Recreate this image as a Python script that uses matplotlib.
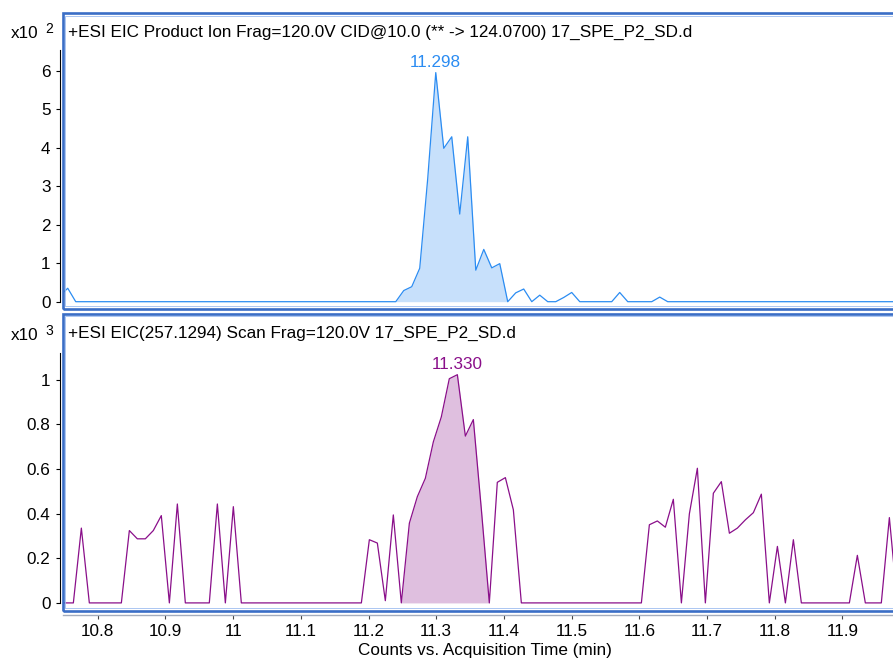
import matplotlib
matplotlib.use("Agg")
import matplotlib.pyplot as plt
from matplotlib.patches import Rectangle
from matplotlib.ticker import FuncFormatter

plt.rcParams['font.family'] = ['Liberation Sans', 'DejaVu Sans']

W, H = 893, 658
FS = 12.3

# top trace: +ESI EIC product ion (counts x10^2)
t_top = [10.7439, 10.7557, 10.7675, 11.2402, 11.2520, 11.2638, 11.2756, 11.2874,
         11.2993, 11.3111, 11.3229, 11.3347, 11.3465, 11.3584, 11.3702, 11.3820,
         11.3938, 11.4056, 11.4174, 11.4292, 11.4411, 11.4529, 11.4647, 11.4765,
         11.4883, 11.5001, 11.5120, 11.5592, 11.5710, 11.5829, 11.6183, 11.6301,
         11.6419, 11.9900]
y_top = [0.15, 0.35, 0.0, 0.0, 0.29, 0.39, 0.87, 3.2,
         5.96, 3.99, 4.29, 2.28, 4.29, 0.82, 1.36, 0.88,
         0.99, 0.0, 0.23, 0.33, 0.0, 0.17, 0.0, 0.0,
         0.11, 0.24, 0.0, 0.0, 0.24, 0.0, 0.0, 0.12,
         0.0, 0.0]
top_peak = (11.2402, 11.4056)
top_yticks = [0, 1, 2, 3, 4, 5, 6]

# bottom trace: +ESI EIC(257.1294) scan (counts x10^3)
t_bot = [10.7450, 10.7640, 10.7758, 10.7876, 10.8349, 10.8467, 10.8585, 10.8703,
         10.8821, 10.8939, 10.9058, 10.9176, 10.9294, 10.9648, 10.9767, 10.9885,
         11.0003, 11.0121, 11.1894, 11.2012, 11.2130, 11.2248, 11.2366, 11.2484,
         11.2603, 11.2721, 11.2839, 11.2957, 11.3075, 11.3193, 11.3312, 11.3430,
         11.3548, 11.3666, 11.3784, 11.3902, 11.4021, 11.4139, 11.4257, 11.6030,
         11.6148, 11.6266, 11.6384, 11.6502, 11.6621, 11.6739, 11.6857, 11.6975,
         11.7093, 11.7211, 11.7330, 11.7448, 11.7566, 11.7684, 11.7802, 11.7920,
         11.8039, 11.8157, 11.8275, 11.8393, 11.9102, 11.9220, 11.9338, 11.9574,
         11.9693, 11.9811]
y_bot = [0.0, 0.0, 0.335, 0.0, 0.0, 0.324, 0.287, 0.287,
         0.324, 0.391, 0.0, 0.443, 0.0, 0.0, 0.443, 0.0,
         0.431, 0.0, 0.0, 0.283, 0.268, 0.01, 0.394, 0.0,
         0.357, 0.476, 0.558, 0.721, 0.833, 1.004, 1.022, 0.747,
         0.821, 0.42, 0.0, 0.540, 0.561, 0.417, 0.0, 0.0,
         0.350, 0.367, 0.339, 0.464, 0.0, 0.399, 0.603, 0.0,
         0.491, 0.543, 0.312, 0.335, 0.372, 0.404, 0.487, 0.0,
         0.253, 0.0, 0.283, 0.0, 0.0, 0.213, 0.0, 0.0,
         0.382, 0.0]
bot_peak = (11.2484, 11.3784)
bot_yticks = [0, 0.2, 0.4, 0.6, 0.8, 1.0]

x_ticks = [10.8, 10.9, 11.0, 11.1, 11.2, 11.3, 11.4, 11.5, 11.6, 11.7, 11.8, 11.9]

title_top = "+ESI EIC Product Ion Frag=120.0V CID@10.0 (** -> 124.0700) 17_SPE_P2_SD.d"
title_bot = "+ESI EIC(257.1294) Scan Frag=120.0V 17_SPE_P2_SD.d"
xlabel = "Counts vs. Acquisition Time (min)"

frame_dark = '#3a6ec6'
frame_light = '#9dbdf0'
blue = '#2b8cf2'
blue_fill = '#c7e0fb'
purple = '#8a0f8a'
purple_fill = '#dfbfdf'


def box(x0, y0, x1, y1):
    # pixel box (top-left origin) -> figure rect
    return [x0 / W, 1 - y1 / H, (x1 - x0) / W, (y1 - y0) / H]


fig = plt.figure(figsize=(W / 100, H / 100), dpi=100)
ax1 = fig.add_axes(box(63, 13, 900, 309))
ax2 = fig.add_axes(box(63, 313.5, 900, 610.5))

fmt = FuncFormatter(lambda v, p: '%g' % round(v, 3))
xlim = (10.7487, 11.9850)


def style(ax, ylim, yticks, ytop):
    ax.set_xlim(*xlim)
    ax.set_ylim(*ylim)
    for s in ('top', 'right', 'bottom'):
        ax.spines[s].set_visible(False)
    ax.spines['left'].set_position(('outward', 2))
    ax.spines['left'].set_bounds(0, ytop)
    ax.spines['left'].set_linewidth(0.8)
    ax.set_yticks(yticks)
    ax.yaxis.set_major_formatter(fmt)
    ax.tick_params(axis='y', length=3, width=0.8, pad=4, labelsize=FS)
    ax.add_patch(Rectangle((0, 0), 1, 1, transform=ax.transAxes, fill=False,
                           ec=frame_dark, lw=1.9, clip_on=False, zorder=6))
    ax.add_patch(Rectangle((0.0027, 0.0085), 0.995, 0.983, transform=ax.transAxes,
                           fill=False, ec=frame_light, lw=0.6, clip_on=False, zorder=6))


# top panel
style(ax1, (-0.19, 7.51), top_yticks, 6.55)
ax1.tick_params(axis='x', bottom=False, labelbottom=False)
mask = [top_peak[0] <= t <= top_peak[1] for t in t_top]
ax1.fill_between(t_top, y_top, 0, where=mask, color=blue_fill, lw=0)
ax1.plot(t_top, y_top, color=blue, lw=0.9)
i = y_top.index(max(y_top))
ax1.annotate('11.298', (t_top[i], y_top[i]), xytext=(0, 4.2), textcoords='offset points',
             ha='center', va='baseline', color=blue, fontsize=FS)
fig.text(68 / W, 1 - 36.5 / H, title_top, fontsize=FS, va='baseline', ha='left')
fig.text(11 / W, 1 - 37.5 / H, 'x10', fontsize=FS, va='baseline')
fig.text(45 / W, 1 - 33 / H, '2', fontsize=10, va='baseline')

# bottom panel
style(ax2, (-0.034, 1.296), bot_yticks, 1.12)
ax2.spines['bottom'].set_visible(True)
ax2.spines['bottom'].set_position(('outward', 3))
ax2.spines['bottom'].set_color('#a4adbd')
ax2.spines['bottom'].set_linewidth(1.0)
ax2.set_xticks(x_ticks)
ax2.xaxis.set_major_formatter(fmt)
ax2.tick_params(axis='x', length=3, width=0.8, color='#444444', pad=3.5, labelsize=FS)
mask = [bot_peak[0] <= t <= bot_peak[1] for t in t_bot]
ax2.fill_between(t_bot, y_bot, 0, where=mask, color=purple_fill, lw=0)
ax2.plot(t_bot, y_bot, color=purple, lw=0.9)
i = y_bot.index(max(y_bot))
ax2.annotate('11.330', (t_bot[i], y_bot[i]), xytext=(0, 4.4), textcoords='offset points',
             ha='center', va='baseline', color=purple, fontsize=FS)
fig.text(68 / W, 1 - 337.5 / H, title_bot, fontsize=FS, va='baseline', ha='left')
fig.text(11 / W, 1 - 339.5 / H, 'x10', fontsize=FS, va='baseline')
fig.text(45 / W, 1 - 335 / H, '3', fontsize=10, va='baseline')
fig.text(485 / W, 1 - 655 / H, xlabel, fontsize=FS, va='baseline', ha='center')

fig.savefig('out.png', dpi=100)
